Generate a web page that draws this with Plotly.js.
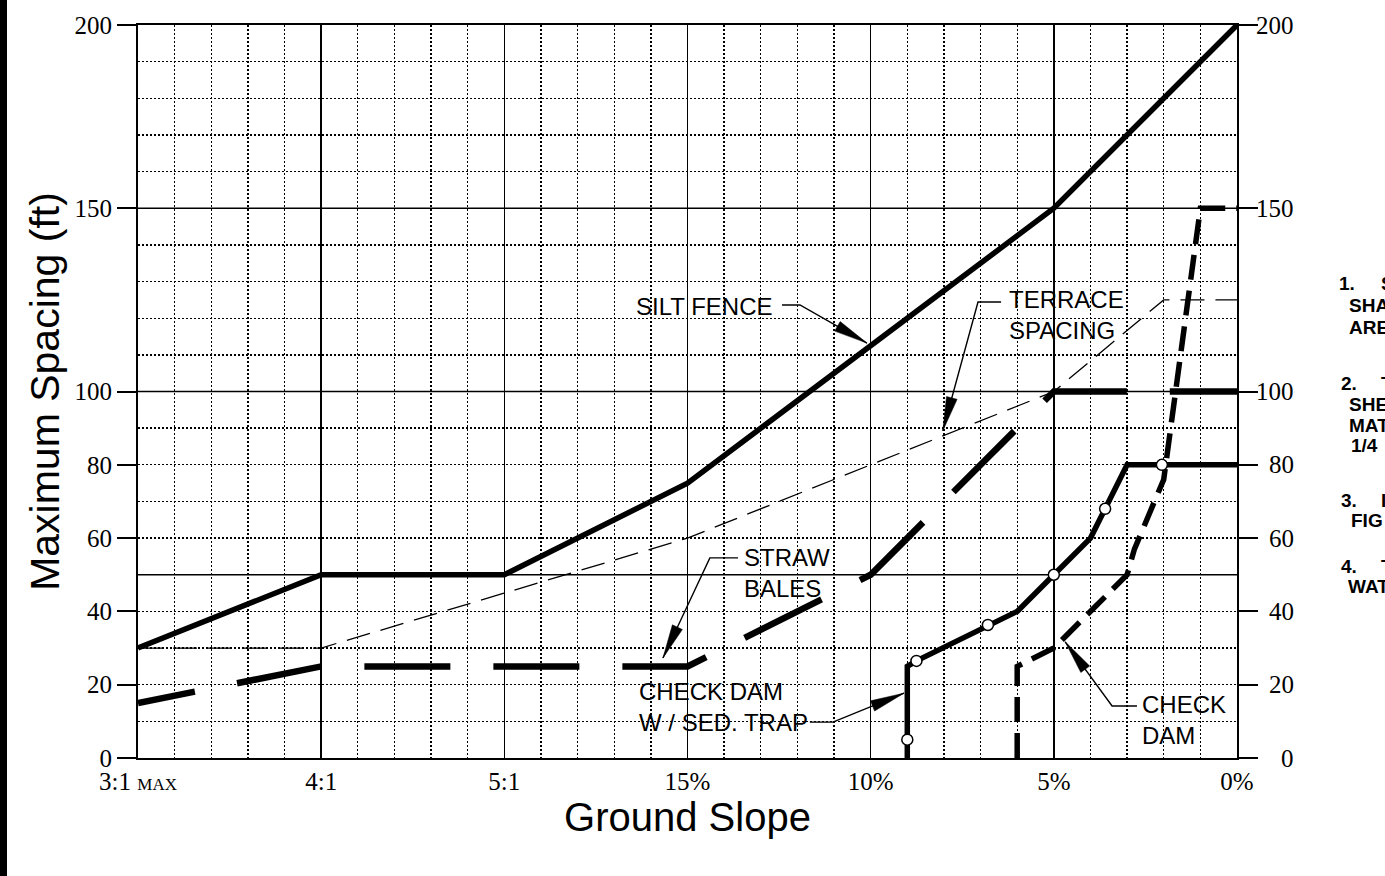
<!DOCTYPE html>
<html>
<head>
<meta charset="utf-8">
<script src="https://cdn.plot.ly/plotly-3.0.1.min.js"></script>
<style>
html,body{margin:0;padding:0;background:#fff;overflow:hidden}
#chart{width:1385px;height:876px}
</style>
</head>
<body>
<div id="chart"></div>
<script>
// ---------------- DATA ----------------
const xTickVals = [0, 5, 10, 15, 20, 25, 30];
const xTickText = ['3:1 <span style="font-size:17px">MAX</span>', '4:1', '5:1', '15%', '10%', '5%', '0%'];
const yTickVals = [0, 20, 40, 60, 80, 100, 150, 200];
const yTickText = ['0', '20', '40', '60', '80', '100', '150', '200'];
const ySolidLevels = [50, 100, 150];

const siltFenceX = [0, 5, 10, 15, 25, 30];
const siltFenceY = [30, 50, 50, 75, 150, 200];

const terraceX = [0, 5, 10, 15, 20, 25, 28, 30];
const terraceY = [30, 30, 45, 60, 80, 100, 125, 125];

const strawBalesX = [0, 5, 15, 20, 25, 30];
const strawBalesY = [15, 25, 25, 50, 100, 100];

const sedTrapX = [21, 21, 21.25, 23.2, 24, 25, 26, 27, 30];
const sedTrapY = [0, 25, 26.5, 36.3, 40, 50, 60, 80, 80];
const sedTrapPtsX = [21, 21.25, 23.2, 25, 26.4, 27.95];
const sedTrapPtsY = [5, 26.5, 36.3, 50, 68, 80];

const checkDamX = [24, 24, 25, 27, 27.2, 27.5, 27.75, 28, 29, 30];
const checkDamY = [0, 25, 30, 50, 57, 64, 70, 76, 150, 150];

const calloutText = ['SILT FENCE', 'TERRACE<br>SPACING', 'STRAW<br>BALES', 'CHECK DAM<br>W / SED. TRAP', 'CHECK<br>DAM'];
const noteText = ['1.', 'S', 'SHA', 'ARE', '2.', 'T', 'SHE', 'MAT', '1/4', '3.', 'I', 'FIG', '4.', 'T', 'WAT'];

// ---------------- LAYOUT / STYLE ----------------
const W = 1385, H = 876;
const M = {l: 138, r: 148, t: 25, b: 118};
const X_RANGE = [0, 30], Y_RANGE = [0, 200];
const PW = W - M.l - M.r, PH = H - M.t - M.b;
const sx = PW / (X_RANGE[1] - X_RANGE[0]);
const sy = PH / (Y_RANGE[1] - Y_RANGE[0]);
const SERIF = 'Liberation Serif, Times New Roman, serif';
const SANS = 'Liberation Sans, Arial, sans-serif';

// callout placement (data coords)
const calloutPos = [
  {x: 15.45, y: 123.1, xanchor: 'center', leader: [[17.58, 123.6], [18.07, 123.6], [19.9, 113.2]]},
  {x: 23.72, y: 120.9, xanchor: 'left', leader: [[23.56, 124.4], [22.93, 124.4], [21.97, 89.3]]},
  {x: 16.49, y: 50.6, xanchor: 'left', leader: [[16.38, 54.6], [15.61, 54.6], [14.33, 27.3]]},
  {x: 13.62, y: 13.9, xanchor: 'left', leader: [[18.34, 9.8], [18.97, 9.8], [20.91, 17.7]]},
  {x: 27.35, y: 10.5, xanchor: 'left', leader: [[27.27, 14.2], [26.59, 14.2], [25.31, 31.7]]}
];
// note placement (pixels on page)
const notePos = [[1337,283],[1379,283],[1347,305],[1347,327],[1339,384],[1379,384],[1347,404],[1347,425],[1349,445],
                 [1339,500],[1379,500],[1349,520],[1339,566],[1379,566],[1346,586]];

function headPath(p0, tip, L, Wd) {
  const dx = (tip[0] - p0[0]) * sx, dy = (tip[1] - p0[1]) * sy;
  const len = Math.hypot(dx, dy), ux = dx / len, uy = dy / len;
  const tx = tip[0] * sx, ty = tip[1] * sy;
  const bx = tx - L * ux, by = ty - L * uy, nx = -uy, ny = ux;
  const pts = [[tx, ty], [bx + Wd * nx, by + Wd * ny], [bx - Wd * nx, by - Wd * ny]]
    .map(p => [p[0] / sx, p[1] / sy]);
  return 'M' + pts.map(p => p[0].toFixed(4) + ',' + p[1].toFixed(4)).join(' L') + ' Z';
}

const traces = [
  {x: terraceX, y: terraceY, mode: 'lines', line: {color: '#000', width: 1.3, dash: '24px,11px'}, name: 'Terrace spacing'},
  {x: siltFenceX, y: siltFenceY, mode: 'lines', line: {color: '#000', width: 5.5}, name: 'Silt fence'},
  {x: strawBalesX, y: strawBalesY, mode: 'lines',
   line: {color: '#000', width: 6.5, dash: '58px,43px,86px,43px,86px,43px,86px,43px,86px,43px,86px,43px,86px,43px,86px,43px,86px,43px,86px,43px,86px,43px'},
   name: 'Straw bales'},
  {x: sedTrapX, y: sedTrapY, mode: 'lines', line: {color: '#000', width: 5.5}, name: 'Check dam w/ sed trap'},
  {x: checkDamX, y: checkDamY, mode: 'lines', line: {color: '#000', width: 5.5, dash: '25px,11px'}, name: 'Check dam'},
  {x: sedTrapPtsX, y: sedTrapPtsY, mode: 'markers',
   marker: {symbol: 'circle', size: 11, color: '#fff', line: {color: '#000', width: 1.5}}, name: 'pts'}
];

const shapes = [];
ySolidLevels.forEach(v => shapes.push({type: 'line', xref: 'paper', x0: 0, x1: 1, yref: 'y', y0: v, y1: v,
  line: {color: '#000', width: 1.6}, layer: 'below'}));
shapes.push({type: 'rect', xref: 'paper', yref: 'paper', x0: -0.2, x1: (7 - M.l) / PW, y0: -0.3, y1: 1.2,
  fillcolor: '#000', line: {width: 0}, layer: 'above'});
calloutPos.forEach(c => {
  const p = c.leader;
  shapes.push({type: 'path', xref: 'x', yref: 'y', layer: 'above',
    path: 'M' + p.map(q => q[0] + ',' + q[1]).join(' L'), line: {color: '#000', width: 1.4}});
  shapes.push({type: 'path', xref: 'x', yref: 'y', layer: 'above',
    path: headPath(p[p.length - 2], p[p.length - 1], 34, 5.5), fillcolor: '#000', line: {color: '#000', width: 0.5}});
});

const annotations = [];
calloutText.forEach((t, i) => {
  const c = calloutPos[i];
  annotations.push({text: t, x: c.x, y: c.y, xref: 'x', yref: 'y', xanchor: c.xanchor, yanchor: 'middle',
    align: 'left', showarrow: false, font: {family: SANS, size: 24, color: '#000'}});
});
yTickVals.forEach((v, i) => {
  annotations.push({text: yTickText[i], x: (1296 - M.l) / PW, y: v, xref: 'paper', yref: 'y',
    xanchor: 'right', yanchor: 'middle', showarrow: false, font: {family: SERIF, size: 25, color: '#000'}});
});
noteText.forEach((t, i) => {
  const p = notePos[i];
  annotations.push({text: '<b>' + t + '</b>', x: (p[0] - M.l) / PW, y: (H - M.b - p[1]) / PH, xref: 'paper', yref: 'paper',
    xanchor: 'left', yanchor: 'middle', showarrow: false, font: {family: SANS, size: 19, color: '#000'}});
});

const gridDot = '2px,2px';
const layout = {
  width: W, height: H,
  margin: M,
  paper_bgcolor: '#fff', plot_bgcolor: '#fff',
  showlegend: false,
  xaxis: {
    range: X_RANGE, fixedrange: true,
    tickmode: 'array', tickvals: xTickVals, ticktext: xTickText,
    tickfont: {family: SERIF, size: 25, color: '#000'},
    ticks: '', showline: true, mirror: true, linecolor: '#000', linewidth: 2,
    showgrid: true, gridcolor: '#000', gridwidth: 1.6, zeroline: false,
    minor: {tick0: 0, dtick: 1, showgrid: true, gridcolor: '#000', gridwidth: 1.4, griddash: gridDot, ticks: ''},
    title: {text: 'Ground Slope', font: {family: SANS, size: 40, color: '#000'}, standoff: 8}
  },
  yaxis: {
    range: Y_RANGE, fixedrange: true,
    tickmode: 'array', tickvals: yTickVals, ticktext: yTickText,
    tickfont: {family: SERIF, size: 25, color: '#000'},
    ticks: 'outside', ticklen: 19, tickwidth: 2, tickcolor: '#000',
    showline: true, mirror: 'ticks', linecolor: '#000', linewidth: 2,
    showgrid: true, gridcolor: '#000', gridwidth: 1.4, griddash: gridDot, zeroline: false,
    minor: {tick0: 0, dtick: 10, showgrid: true, gridcolor: '#000', gridwidth: 1.4, griddash: gridDot, ticks: ''},
    title: {text: 'Maximum Spacing (ft)', font: {family: SANS, size: 41, color: '#000'}, standoff: 2}
  },
  shapes: shapes,
  annotations: annotations
};

Plotly.newPlot('chart', traces, layout, {staticPlot: true, displayModeBar: false});
</script>
</body>
</html>
